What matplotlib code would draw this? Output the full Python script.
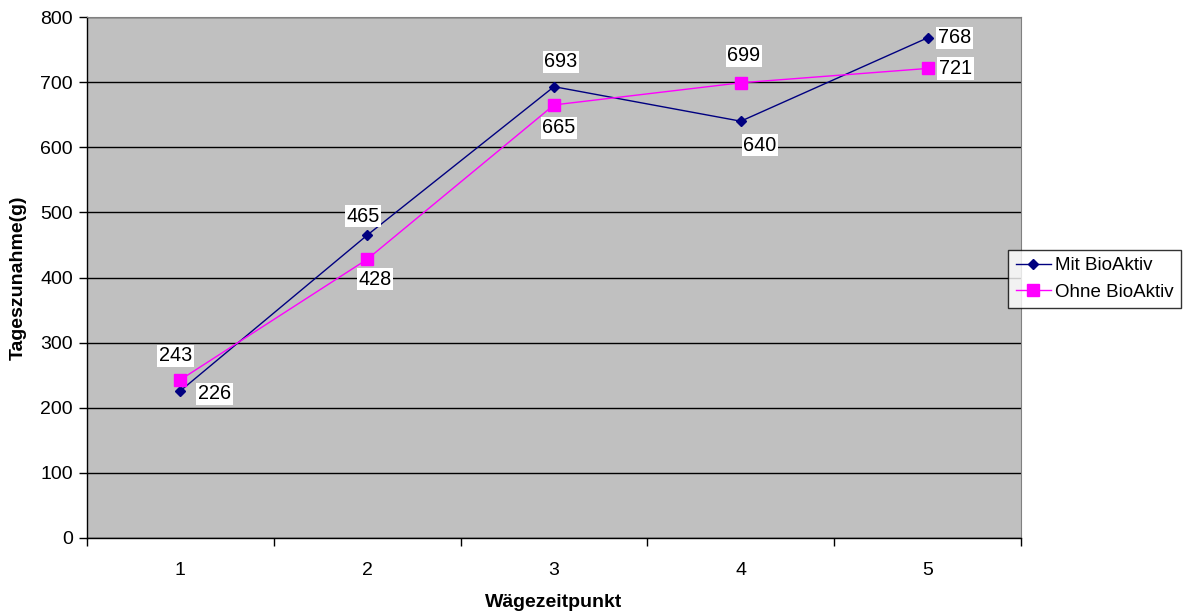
import matplotlib
matplotlib.use("Agg")
import numpy as np
import matplotlib.pyplot as plt
from matplotlib.ticker import FixedLocator, NullFormatter

plt.rcParams['font.family'] = ['Liberation Sans', 'DejaVu Sans']

# Wägezeitpunkte und Tageszunahmen
zeitpunkte = [1, 2, 3, 4, 5]
mit_bioaktiv = [226, 465, 693, 640, 768]
ohne_bioaktiv = [243, 428, 665, 699, 721]

# Versatz der Wertbeschriftungen (Pixel, x nach rechts, y nach unten)
versatz_mit = [(34, 3), (-4, -19), (7, -25), (19, 24), (27, 0)]
versatz_ohne = [(-5, -24), (8, 20), (5, 23), (3, -27), (28, 0)]

fig = plt.figure(figsize=(11.85, 6.12), dpi=100)
ax = fig.add_axes([87 / 1185, 74 / 612, 934 / 1185, 521 / 612])
ax.set_facecolor('#c0c0c0')

ax.plot(zeitpunkte, mit_bioaktiv, color='#000080', lw=1.0, marker='D',
        markersize=5, label='Mit BioAktiv', zorder=3)
ax.plot(zeitpunkte, ohne_bioaktiv, color='#ff00ff', lw=1.0, marker='s',
        markersize=8, label='Ohne BioAktiv', zorder=3)

px = 0.72  # Punkte pro Pixel bei 100 dpi
for werte, versatz in [(mit_bioaktiv, versatz_mit), (ohne_bioaktiv, versatz_ohne)]:
    for x, y, (dx, dy) in zip(zeitpunkte, werte, versatz):
        ax.annotate(str(y), (x, y), xytext=(dx * px, -dy * px),
                    textcoords='offset points', ha='center', va='center',
                    fontsize=14.3,
                    bbox=dict(boxstyle='square,pad=0.08', fc='white', ec='none'),
                    zorder=4)

ax.set_xlim(0.5, 5.5)
ax.set_ylim(0, 800)
ax.set_yticks(np.arange(0, 801, 100))
ax.set_xticks(zeitpunkte)
ax.xaxis.set_minor_locator(FixedLocator(np.arange(0.5, 5.6, 1)))
ax.xaxis.set_minor_formatter(NullFormatter())
ax.tick_params(axis='x', which='major', length=0, pad=17, labelsize=14)
ax.tick_params(axis='x', which='minor', length=6, width=1, direction='out')
ax.tick_params(axis='y', length=6, width=1, direction='out', pad=4, labelsize=14)

ax.yaxis.grid(True, color='black', lw=1)
ax.set_axisbelow(True)
for s in ['top', 'right']:
    ax.spines[s].set_color('#808080')
for s in ['left', 'bottom']:
    ax.spines[s].set_color('black')
    ax.spines[s].set_linewidth(1)

ax.set_xlabel('Wägezeitpunkt', fontsize=14, fontweight='bold', labelpad=11)
ax.set_ylabel('Tageszunahme(g)', fontsize=14, fontweight='bold', labelpad=10)

leg = ax.legend(loc='center left', bbox_to_anchor=(1008 / 1185, 1 - 279 / 612),
                bbox_transform=fig.transFigure, frameon=True, fancybox=False,
                edgecolor='black', fontsize=13.5, borderpad=0.4,
                handlelength=1.9, handletextpad=0.2, labelspacing=0.5,
                borderaxespad=0)
leg.get_frame().set_linewidth(1)

fig.savefig('out.png', dpi=100)
